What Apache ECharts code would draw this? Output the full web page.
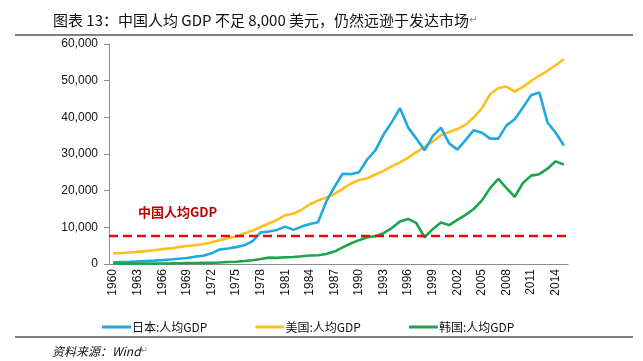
<!DOCTYPE html>
<html>
<head>
<meta charset="utf-8">
<script src="https://cdn.jsdelivr.net/npm/echarts@6/dist/echarts.min.js"></script>
<style>
html,body{margin:0;padding:0;background:#fff;}
#c{width:643px;height:361px;}
</style>
</head>
<body>
<div id="c"></div>
<script>
const years = [];
for (let y = 1960; y <= 2015; y++) years.push(String(y));

const japan = [480,560,630,710,830,910,1050,1220,1440,1650,2000,2250,2900,3950,4250,4600,5100,6200,8600,8850,
  9300,10200,9300,10200,10900,11400,17000,21000,24600,24500,25000,28500,31000,35300,38700,42500,37200,34200,31000,34900,
  37200,32900,31200,33800,36500,35800,34200,34200,37800,39500,42700,46000,46800,38600,35800,32300];
const usa = [2900,3000,3150,3300,3500,3750,4050,4250,4600,4900,5100,5450,5900,6500,7000,7500,8300,9100,10100,11100,
  12000,13300,13700,14800,16300,17300,18100,19100,20500,21900,22900,23400,24400,25400,26700,27700,29000,30500,31900,33400,
  35100,36000,36800,38000,40000,42500,46300,48000,48400,47000,48300,49900,51400,52700,54200,55900];
const korea = [155,92,104,143,122,106,130,158,194,238,270,295,317,398,550,600,810,1030,1380,1740,
  1670,1830,1900,2100,2310,2400,2750,3400,4550,5600,6500,7300,7600,8400,9800,11600,12300,11150,7300,9500,
  11300,10600,12050,13400,15000,17350,20700,23200,20700,18300,22100,24100,24500,26000,28000,27100];
const chinaLevel = 7600;

const seriesNames = ['日本:人均GDP', '美国:人均GDP', '韩国:人均GDP'];
const colors = ['#1FA9E1', '#FDBF1D', '#1BA54B'];

const chart = echarts.init(document.getElementById('c'), null, {renderer: 'canvas'});
const axisColor = '#8c8c8c';
const labelFont = 'Liberation Sans, Arial, sans-serif';

chart.setOption({
  animation: false,
  backgroundColor: '#fff',
  grid: {left: 109, right: 75, top: 44, bottom: 97},
  legend: {
    data: seriesNames,
    left: 97, top: 316,
    icon: 'rect', itemWidth: 29, itemHeight: 3, itemGap: 48,
    textStyle: {fontFamily: 'Noto Sans CJK SC, sans-serif', fontSize: 12, color: '#111', padding: [0,0,0,-4]}
  },
  xAxis: {
    type: 'category', data: years, boundaryGap: true,
    axisLine: {lineStyle: {color: axisColor, width: 1}},
    axisTick: {interval: 2, length: 5, lineStyle: {color: axisColor}},
    axisLabel: {interval: 2, rotate: 90, margin: 5, fontFamily: labelFont, fontSize: 12, color: '#111'},
    splitLine: {show: false}
  },
  yAxis: {
    type: 'value', min: 0, max: 60000, interval: 10000,
    axisLine: {show: true, lineStyle: {color: axisColor, width: 1}},
    axisTick: {show: true, length: 5, inside: false, lineStyle: {color: axisColor}},
    axisLabel: {margin: 11, fontFamily: labelFont, fontSize: 12, color: '#111',
      formatter: v => v.toLocaleString('en-US')},
    splitLine: {show: false}
  },
  series: [
    {name: seriesNames[0], type: 'line', data: japan, symbol: 'none', color: colors[0],
      lineStyle: {width: 2.6, color: colors[0]}, z: 3},
    {name: seriesNames[1], type: 'line', data: usa, symbol: 'none', color: colors[1],
      lineStyle: {width: 2.6, color: colors[1]}, z: 2},
    {name: seriesNames[2], type: 'line', data: korea, symbol: 'none', color: colors[2],
      lineStyle: {width: 2.6, color: colors[2]}, z: 4,
      markLine: {
        silent: true, symbol: 'none', label: {show: false},
        lineStyle: {color: '#E8090A', type: [9, 5], width: 2.4},
        data: [{yAxis: chinaLevel}]
      }}
  ],
  graphic: [
    {type: 'text', left: 53, top: 13, style: {
      text: '{a|图表 13：中国人均 GDP 不足 8,000 美元，仍然远逊于发达市场}{b|↵}',
      rich: {
        a: {font: '15px "Noto Sans CJK SC", sans-serif', fill: '#111'},
        b: {font: '10px "DejaVu Sans", sans-serif', fill: '#888'}
      }}},
    {type: 'line', shape: {x1: 15, y1: 35, x2: 633, y2: 35}, style: {stroke: '#000', lineWidth: 1.2}},
    {type: 'line', shape: {x1: 15, y1: 337, x2: 633, y2: 337}, style: {stroke: '#000', lineWidth: 1.2}},
    {type: 'text', left: 52, top: 345, style: {
      text: '{a|资料来源：Wind}{b|↵}',
      rich: {
        a: {font: 'italic 12px "Noto Sans CJK SC", sans-serif', fill: '#111'},
        b: {font: '9px "DejaVu Sans", sans-serif', fill: '#888'}
      }}},
    {type: 'text', left: 138, top: 206, style: {
      text: '中国人均GDP', font: 'bold 13px "Noto Sans CJK SC", sans-serif', fill: '#C00000'}}
  ]
});
</script>
</body>
</html>
